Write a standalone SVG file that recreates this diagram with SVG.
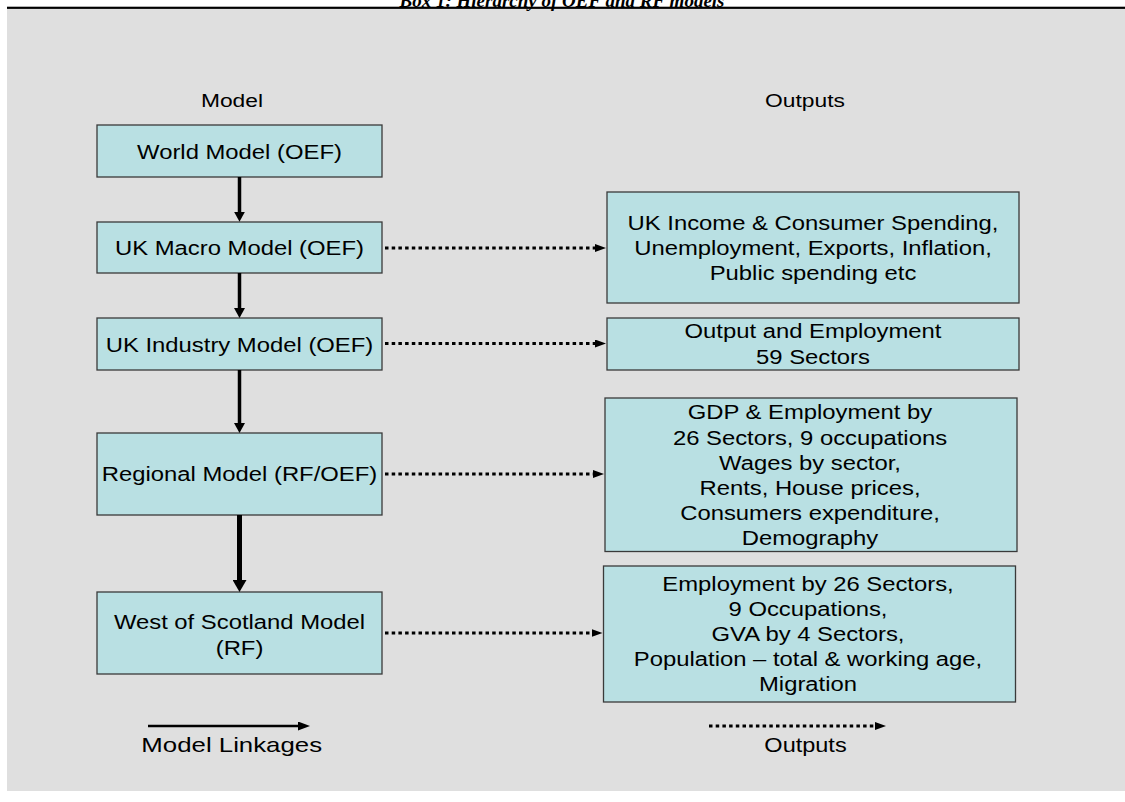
<svg xmlns="http://www.w3.org/2000/svg" width="1125" height="802" viewBox="0 0 1125 802">
<style>
.box{fill:#b9e0e3;stroke:#3a3a3a;stroke-width:1.3}
.t{font-family:"Liberation Sans",Arial,sans-serif;font-size:21px;fill:#000;text-anchor:middle}
.h{font-family:"Liberation Sans",Arial,sans-serif;font-size:19px;fill:#000;text-anchor:middle}
.solid{stroke:#000;stroke-width:3.5;fill:none}
.dot{stroke:#000;stroke-width:3;fill:none;stroke-dasharray:3.5 3.2}
</style>
<defs>
<marker id="ah" markerUnits="userSpaceOnUse" markerWidth="10" markerHeight="11" refX="1" refY="5.5" orient="auto"><path d="M0,0 L10,5.5 L0,11 z" fill="#000"/></marker>
<marker id="ahb" markerUnits="userSpaceOnUse" markerWidth="12" markerHeight="14" refX="1" refY="7" orient="auto"><path d="M0,0 L12,7 L0,14 z" fill="#000"/></marker>
<marker id="ahd" markerUnits="userSpaceOnUse" markerWidth="11" markerHeight="8" refX="1" refY="4" orient="auto"><path d="M0,0 L11,4 L0,8 z" fill="#000"/></marker>
<marker id="ahl" markerUnits="userSpaceOnUse" markerWidth="12" markerHeight="9" refX="1" refY="4.5" orient="auto"><path d="M0,0 L12,4.5 L0,9 z" fill="#000"/></marker>
</defs>
<rect x="7" y="9" width="1118" height="782" fill="#dfdfdf"/>
<rect x="7" y="6.7" width="1118" height="2.2" fill="#000"/>
<text x="562" y="6.5" font-family="'Liberation Serif','Times New Roman',serif" font-size="19" font-weight="bold" font-style="italic" text-anchor="middle">Box 1: Hierarchy of OEF and RF models</text>

<g id="headers">
<text class="h" transform="translate(232,0) scale(1.2,1)" x="0" y="107">Model</text>
<text class="h" transform="translate(805,0) scale(1.2,1)" x="0" y="107">Outputs</text>
</g>

<g id="world">
<rect class="box" x="97" y="125" width="285" height="52"/>
<text class="t" transform="translate(239.5,0) scale(1.135,1)" x="0" y="159">World Model (OEF)</text>
</g>
<g id="ukmacro">
<rect class="box" x="97" y="222" width="285" height="51"/>
<text class="t" transform="translate(239.5,0) scale(1.135,1)" x="0" y="255">UK Macro Model (OEF)</text>
</g>
<g id="ukindustry">
<rect class="box" x="97" y="318" width="285" height="52"/>
<text class="t" transform="translate(239.5,0) scale(1.135,1)" x="0" y="352.5">UK Industry Model (OEF)</text>
</g>
<g id="regional">
<rect class="box" x="97" y="433" width="285" height="82"/>
<text class="t" transform="translate(239.5,0) scale(1.135,1)" x="0" y="481.5">Regional Model (RF/OEF)</text>
</g>
<g id="west">
<rect class="box" x="97" y="592" width="285" height="82"/>
<text class="t" transform="translate(239.5,0) scale(1.135,1)"><tspan x="0" y="629">West of Scotland Model</tspan><tspan x="0" y="655">(RF)</tspan></text>
</g>

<g id="out-macro">
<rect class="box" x="607" y="192" width="412" height="111"/>
<text class="t" transform="translate(813,0) scale(1.135,1)"><tspan x="0" y="230">UK Income &amp; Consumer Spending,</tspan><tspan x="0" y="255.5">Unemployment, Exports, Inflation,</tspan><tspan x="0" y="280">Public spending etc</tspan></text>
</g>
<g id="out-industry">
<rect class="box" x="607" y="318" width="412" height="52"/>
<text class="t" transform="translate(813,0) scale(1.135,1)"><tspan x="0" y="338.5">Output and Employment</tspan><tspan x="0" y="364">59 Sectors</tspan></text>
</g>
<g id="out-regional">
<rect class="box" x="605" y="398" width="412" height="153.5"/>
<text class="t" transform="translate(810,0) scale(1.135,1)"><tspan x="0" y="419.5">GDP &amp; Employment by</tspan><tspan x="0" y="445">26 Sectors, 9 occupations</tspan><tspan x="0" y="470">Wages by sector,</tspan><tspan x="0" y="495">Rents, House prices,</tspan><tspan x="0" y="520">Consumers expenditure,</tspan><tspan x="0" y="545">Demography</tspan></text>
</g>
<g id="out-west">
<rect class="box" x="603.5" y="566" width="412" height="136"/>
<text class="t" transform="translate(808,0) scale(1.135,1)"><tspan x="0" y="591">Employment by 26 Sectors,</tspan><tspan x="0" y="616">9 Occupations,</tspan><tspan x="0" y="641">GVA by 4 Sectors,</tspan><tspan x="0" y="666">Population – total &amp; working age,</tspan><tspan x="0" y="691">Migration</tspan></text>
</g>

<g id="connectors">
<line class="solid" x1="239.5" y1="177" x2="239.5" y2="212.7" marker-end="url(#ah)"/>
<line class="solid" x1="239.5" y1="273" x2="239.5" y2="309" marker-end="url(#ah)"/>
<line class="solid" x1="239.5" y1="370" x2="239.5" y2="424" marker-end="url(#ah)"/>
<line class="solid" style="stroke-width:5" x1="239.5" y1="515" x2="239.5" y2="581" marker-end="url(#ahb)"/>
<line class="dot" x1="385" y1="248" x2="596" y2="248" marker-end="url(#ahd)"/>
<line class="dot" x1="385" y1="343.5" x2="596" y2="343.5" marker-end="url(#ahd)"/>
<line class="dot" x1="385" y1="474" x2="594" y2="474" marker-end="url(#ahd)"/>
<line class="dot" x1="385" y1="633" x2="592.5" y2="633" marker-end="url(#ahd)"/>
</g>

<g id="legend">
<line class="solid" style="stroke-width:2.7" x1="148" y1="726" x2="299" y2="726" marker-end="url(#ahl)"/>
<text class="h" style="font-size:20px" transform="translate(231.7,0) scale(1.29,1)" x="0" y="752.5">Model Linkages</text>
<line class="dot" x1="709" y1="726" x2="876" y2="726" marker-end="url(#ahd)"/>
<text class="h" style="font-size:20px" transform="translate(805.5,0) scale(1.175,1)" x="0" y="752">Outputs</text>
</g>
</svg>
